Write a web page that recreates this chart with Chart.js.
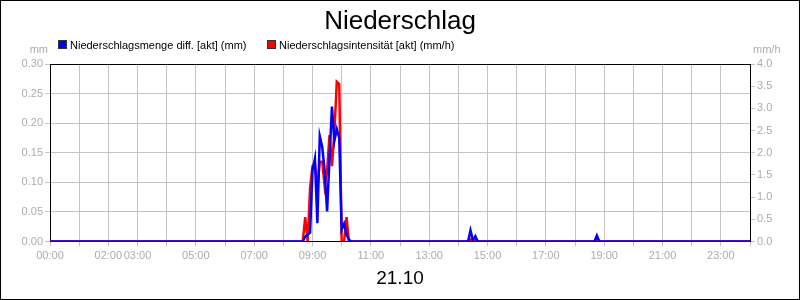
<!DOCTYPE html>
<html>
<head>
<meta charset="utf-8">
<title>Niederschlag</title>
<script src="https://cdn.jsdelivr.net/npm/chart.js@4.4.1/dist/chart.umd.min.js"></script>
<style>
  html, body { margin: 0; padding: 0; background: #fff; }
  canvas { display: block; }
</style>
</head>
<body>
<canvas id="chart" width="800" height="300"></canvas>
<script>
// data (5 minute values, zeros elsewhere)
const times = ["00:00", "08:40", "08:45", "08:50", "08:55", "09:00", "09:05", "09:10", "09:15", "09:20",
               "09:25", "09:30", "09:35", "09:40", "09:45", "09:50", "09:55", "10:00", "10:05", "10:10",
               "10:15", "10:20", "14:20", "14:25", "14:30", "14:35", "14:40", "18:40", "18:45", "18:50", "24:00"];
const mengeDiff = [0, 0, 0.008, 0.012, 0.015, 0.12, 0.14, 0.031, 0.178, 0.16,
                   0.12, 0.051, 0.14, 0.228, 0.17, 0.19, 0.175, 0.02, 0.03, 0.012,
                   0.003, 0, 0, 0.019, 0.002, 0.009, 0, 0, 0.01, 0, 0];
const intensitaet = [0, 0, 0.55, 0, 1.2, 1.7, 1.75, 1.2, 1.8, 1.8,
                     1.25, 1.6, 2.4, 1.7, 2.45, 3.6, 3.55, 0, 0, 0.55,
                     0, 0, 0, 0.05, 0, 0.03, 0, 0, 0.03, 0, 0];
const xTickLabels = ["00:00", "02:00", "03:00", "05:00", "07:00", "09:00", "11:00",
                     "13:00", "15:00", "17:00", "19:00", "21:00", "23:00"];
const seriesNames = ["Niederschlagsmenge diff. [akt] (mm)", "Niederschlagsintensität [akt] (mm/h)"];
const seriesColors = ["#0000ff", "#ff0000"];
const titleText = "Niederschlag";
const dateText = "21.10";

const FONT = "'Liberation Sans', Arial, sans-serif";
const GRAY = "#acacac";

function toHours(t) {
    const p = t.split(":");
    return Number(p[0]) + Number(p[1]) / 60;
}

function points(values) {
    return values.map(function(v, i) { return {x: toHours(times[i]), y: v}; });
}

// white background, frame, title, legend, units and date
const decorations = {
    id: "decorations",
    beforeDraw(chart) {
        const ctx = chart.ctx;
        ctx.save();
        ctx.fillStyle = "#fff";
        ctx.fillRect(0, 0, chart.width, chart.height);
        ctx.restore();
    },
    afterDraw(chart) {
        const ctx = chart.ctx;
        const area = chart.chartArea;
        ctx.save();

        // top line of the plot
        ctx.strokeStyle = "#000";
        ctx.lineWidth = 1;
        ctx.beginPath();
        ctx.moveTo(area.left, Math.round(area.top) + 0.5);
        ctx.lineTo(area.right, Math.round(area.top) + 0.5);
        ctx.stroke();

        // frame
        ctx.strokeRect(0.5, 0.5, chart.width - 1, chart.height - 1);

        // title
        ctx.fillStyle = "#000";
        ctx.font = "26px " + FONT;
        ctx.textAlign = "center";
        ctx.textBaseline = "alphabetic";
        ctx.fillText(titleText, chart.width / 2, 29);

        // legend
        ctx.font = "11px " + FONT;
        ctx.textAlign = "left";
        let x = 58;
        for (let i = 0; i < seriesNames.length; i++) {
            ctx.fillStyle = seriesColors[i];
            ctx.fillRect(x, 40, 9, 9);
            ctx.strokeStyle = "#333";
            ctx.strokeRect(x + 0.5, 40.5, 8, 8);
            ctx.fillStyle = "#000";
            ctx.fillText(seriesNames[i], x + 12, 48.5);
            x = 267;
        }

        // units
        ctx.fillStyle = GRAY;
        ctx.textAlign = "right";
        ctx.fillText("mm", 48, 53);
        ctx.textAlign = "left";
        ctx.fillText("mm/h", 753, 53);

        // date
        ctx.fillStyle = "#000";
        ctx.font = "19px " + FONT;
        ctx.textAlign = "center";
        ctx.fillText(dateText, (area.left + area.right) / 2, 284);

        ctx.restore();
    }
};

const config = {
    type: "line",
    data: {
        datasets: [
            {
                label: seriesNames[0],
                data: points(mengeDiff),
                yAxisID: "yMm",
                borderColor: seriesColors[0],
                backgroundColor: seriesColors[0],
                borderWidth: 2.5,
                pointRadius: 0,
                tension: 0,
            },
            {
                label: seriesNames[1],
                data: points(intensitaet),
                yAxisID: "yMmh",
                borderColor: seriesColors[1],
                backgroundColor: seriesColors[1],
                borderWidth: 2.5,
                pointRadius: 0,
                tension: 0,
            }
        ]
    },
    options: {
        responsive: false,
        animation: false,
        devicePixelRatio: 1,
        layout: {padding: {top: 64, left: 0, right: 0, bottom: 0}},
        plugins: {
            legend: {display: false},
            title: {display: false},
            tooltip: {enabled: false}
        },
        scales: {
            x: {
                type: "linear",
                min: 0,
                max: 24,
                afterFit: function(scale) { scale.height = 58.5; },
                afterBuildTicks: function(scale) {
                    const ticks = [];
                    for (let h = 0; h <= 24; h++) ticks.push({value: h});
                    scale.ticks = ticks;
                },
                ticks: {
                    autoSkip: false,
                    maxRotation: 0,
                    padding: 3,
                    color: GRAY,
                    font: {family: FONT, size: 11},
                    callback: function(v) {
                        const label = String(v).padStart(2, "0") + ":00";
                        return xTickLabels.includes(label) ? label : "";
                    }
                },
                grid: {color: "#c4c4c4", tickColor: "#c4c4c4", tickLength: 5},
                border: {color: "#000"}
            },
            yMm: {
                position: "left",
                min: 0,
                max: 0.3,
                afterFit: function(scale) { scale.width = 50; },
                ticks: {
                    stepSize: 0.05,
                    padding: 2,
                    color: GRAY,
                    font: {family: FONT, size: 11},
                    callback: function(v) { return Number(v).toFixed(2); }
                },
                grid: {color: "#c4c4c4", tickColor: "#c4c4c4", tickLength: 5},
                border: {color: "#000"}
            },
            yMmh: {
                position: "right",
                min: 0,
                max: 4,
                afterFit: function(scale) { scale.width = 50; },
                ticks: {
                    stepSize: 0.5,
                    padding: 2,
                    color: GRAY,
                    font: {family: FONT, size: 11},
                    callback: function(v) { return Number(v).toFixed(1); }
                },
                grid: {drawOnChartArea: false, tickColor: "#c4c4c4", tickLength: 5},
                border: {color: "#000"}
            }
        }
    },
    plugins: [decorations]
};

new Chart(document.getElementById("chart"), config);
</script>
</body>
</html>
